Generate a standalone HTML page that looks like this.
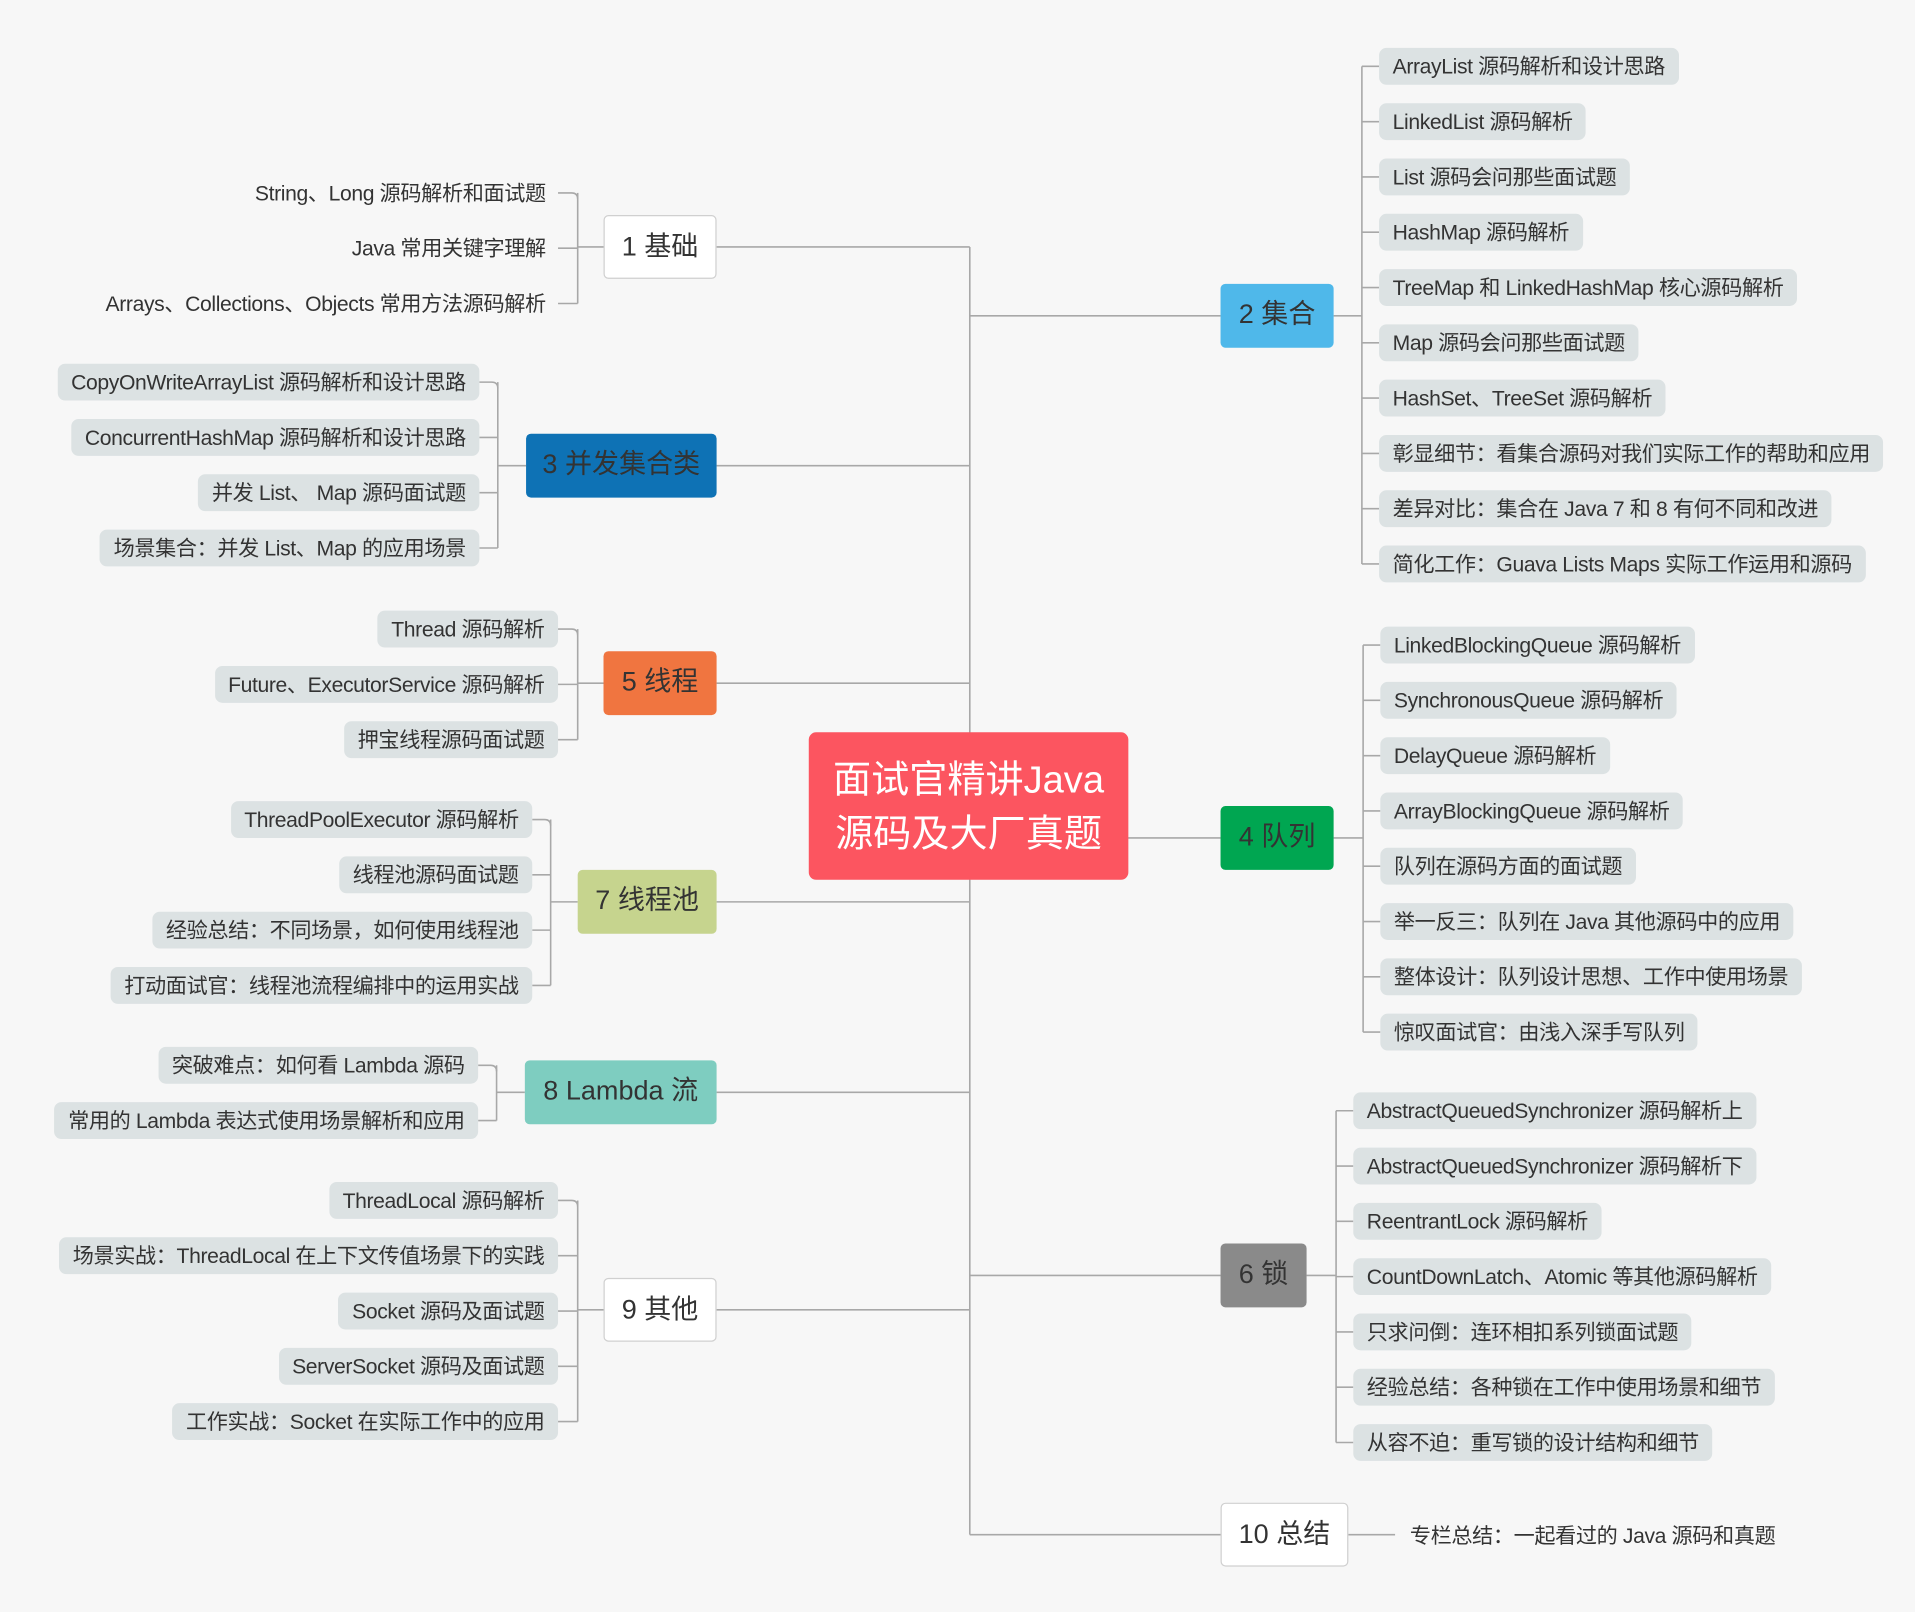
<!DOCTYPE html>
<html><head><meta charset="utf-8">
<style>
html,body{margin:0;padding:0;background:#fff;}
#page{width:1915px;height:1612px;overflow:hidden;position:relative;background:#fff;}
#stage{position:absolute;left:0;top:0;width:1558px;height:1312px;background:#f7f7f7;transform-origin:0 0;transform:scale(1.22914,1.2287);font-family:"Liberation Sans","Noto Sans CJK SC",sans-serif;color:#333;}
.leaf{position:absolute;height:30px;line-height:30px;font-size:17.2px;padding:0 11px;border-radius:6px;background:#dce2e3;white-space:nowrap;letter-spacing:-0.3px;box-sizing:border-box;}
.leaf.plain{background:none;}
.branch{position:absolute;height:52px;line-height:50px;font-size:22px;text-align:center;border-radius:4px;box-sizing:border-box;white-space:nowrap;}
svg{position:absolute;left:0;top:0;}
</style></head><body>
<div id="page">
<div id="stage">
<svg id="lines" width="1558" height="1312"></svg>
<div class="branch" style="left:658px;top:596px;width:260px;height:120px;background:#fc5560;color:#fff;font-size:31px;line-height:44px;padding-top:17px;border-radius:6px;">面试官精讲Java<br>源码及大厂真题</div>
</div></div>
<script>
const leftBranches=[
 {label:"1 基础",x1:491,x2:583,y:201,bg:"#fff",border:"#d0d0d0",bx:470,plain:true,right:444,
  leaves:["String、Long 源码解析和面试题","Java 常用关键字理解","Arrays、Collections、Objects 常用方法源码解析"],ly:[157,202,247]},
 {label:"3 并发集合类",x1:428,x2:583,y:379,bg:"#0e72b5",bx:405,right:390,
  leaves:["CopyOnWriteArrayList 源码解析和设计思路","ConcurrentHashMap 源码解析和设计思路","并发 List、 Map 源码面试题","场景集合：并发 List、Map 的应用场景"],ly:[311,356,401,446]},
 {label:"5 线程",x1:491,x2:583,y:556,bg:"#f07540",bx:470,right:454,
  leaves:["Thread 源码解析","Future、ExecutorService 源码解析","押宝线程源码面试题"],ly:[512,557,602]},
 {label:"7 线程池",x1:470,x2:583,y:734,bg:"#c6d48e",bx:448,right:433,
  leaves:["ThreadPoolExecutor 源码解析","线程池源码面试题","经验总结：不同场景，如何使用线程池","打动面试官：线程池流程编排中的运用实战"],ly:[667,712,757,802]},
 {label:"8 Lambda 流",x1:427,x2:583,y:889,bg:"#7ecdc0",bx:404,right:389,
  leaves:["突破难点：如何看 Lambda 源码","常用的 Lambda 表达式使用场景解析和应用"],ly:[867,912]},
 {label:"9 其他",x1:491,x2:583,y:1066,bg:"#fff",border:"#d0d0d0",bx:470,right:454,
  leaves:["ThreadLocal 源码解析","场景实战：ThreadLocal 在上下文传值场景下的实践","Socket 源码及面试题","ServerSocket 源码及面试题","工作实战：Socket 在实际工作中的应用"],ly:[977,1022,1067,1112,1157]}
];
const rightBranches=[
 {label:"2 集合",x1:993,x2:1085,y:257,bg:"#4fb8ea",bx:1108,left:1122,
  leaves:["ArrayList 源码解析和设计思路","LinkedList 源码解析","List 源码会问那些面试题","HashMap 源码解析","TreeMap 和 LinkedHashMap 核心源码解析","Map 源码会问那些面试题","HashSet、TreeSet 源码解析","彰显细节：看集合源码对我们实际工作的帮助和应用","差异对比：集合在 Java 7 和 8 有何不同和改进","简化工作：Guava Lists Maps 实际工作运用和源码"],ly:[54,99,144,189,234,279,324,369,414,459]},
 {label:"4 队列",x1:993,x2:1085,y:682,bg:"#00a651",bx:1109,left:1123,
  leaves:["LinkedBlockingQueue 源码解析","SynchronousQueue 源码解析","DelayQueue 源码解析","ArrayBlockingQueue 源码解析","队列在源码方面的面试题","举一反三：队列在 Java 其他源码中的应用","整体设计：队列设计思想、工作中使用场景","惊叹面试官：由浅入深手写队列"],ly:[525,570,615,660,705,750,795,840]},
 {label:"6 锁",x1:993,x2:1063,y:1038,bg:"#8a8a8a",bx:1087,left:1101,
  leaves:["AbstractQueuedSynchronizer 源码解析上","AbstractQueuedSynchronizer 源码解析下","ReentrantLock 源码解析","CountDownLatch、Atomic 等其他源码解析","只求问倒：连环相扣系列锁面试题","经验总结：各种锁在工作中使用场景和细节","从容不迫：重写锁的设计结构和细节"],ly:[904,949,994,1039,1084,1129,1174]},
 {label:"10 总结",x1:993,x2:1097,y:1249,bg:"#fff",border:"#d0d0d0",bx:null,left:1136,plain:true,
  leaves:["专栏总结：一起看过的 Java 源码和真题"],ly:[1250]}
];
const stage=document.getElementById('stage');
const svg=document.getElementById('lines');
const NS='http://www.w3.org/2000/svg';
const TRUNK=789;
function path(d){const p=document.createElementNS(NS,'path');p.setAttribute('d',d);p.setAttribute('fill','none');p.setAttribute('stroke','#a8a8a8');p.setAttribute('stroke-width','1.3');


svg.appendChild(p);}
function branchBox(b){const d=document.createElement('div');d.className='branch';


d.style.left=b.x1+'px';d.style.top=(b.y-26)+'px';d.style.width=(b.x2-b.x1)+'px';d.style.background=b.bg;
if(b.border)d.style.border='1px solid '+b.border;
d.textContent=b.label;stage.appendChild(d);}
const all=leftBranches.concat(rightBranches);
const ys=all.map(b=>b.y);
path('M'+TRUNK+' '+Math.min(...ys)+' V'+Math.max(...ys));
leftBranches.forEach(b=>{
 path('M'+b.x2+' '+b.y+' H'+TRUNK);
 branchBox(b);
 const f=b.ly[0],l=b.ly[b.ly.length-1];
 path('M'+b.bx+' '+f+' V'+l);path('M'+b.bx+' '+b.y+' H'+b.x1);
 b.leaves.forEach((t,i)=>{const e=document.createElement('div');e.className='leaf'+(b.plain?' plain':'');
  
  
  e.style.right=(1558-b.right-(b.plain?11:0))+'px';e.style.top=(b.ly[i]-15)+'px';e.textContent=t;stage.appendChild(e);
  path('M'+(b.right+(b.plain?10:0))+' '+b.ly[i]+' H'+(b.bx-5)+' Q'+b.bx+' '+b.ly[i]+' '+b.bx+' '+(b.ly[i]+(i==0?5:0)));});
});
rightBranches.forEach(b=>{
 path('M'+TRUNK+' '+b.y+' H'+b.x1);
 branchBox(b);
 if(b.bx===null){path('M'+b.x2+' '+b.y+' H1135');}
 else{const f=b.ly[0],l=b.ly[b.ly.length-1];
 path('M'+b.bx+' '+f+' V'+l);path('M'+b.x2+' '+b.y+' H'+b.bx);}
 b.leaves.forEach((t,i)=>{const e=document.createElement('div');e.className='leaf'+(b.plain?' plain':'');
  
  
  e.style.left=b.left+'px';e.style.top=(b.ly[i]-15)+'px';e.textContent=t;stage.appendChild(e);
  if(b.bx!==null)path('M'+b.bx+' '+b.ly[i]+' H'+b.left);});
});
</script>
</body></html>
